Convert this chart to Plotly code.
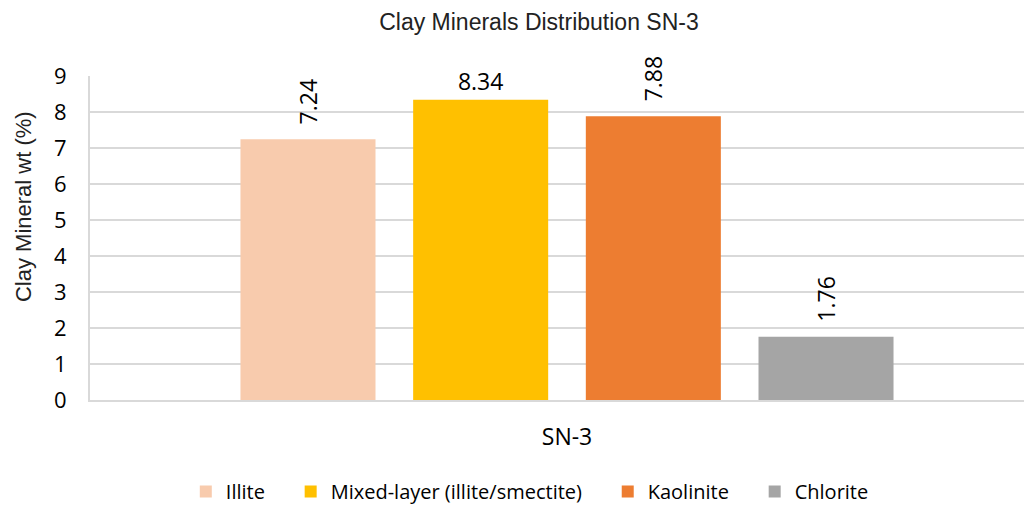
import plotly.graph_objects as go

category = ["SN-3"]
minerals = ["Illite", "Mixed-layer (illite/smectite)", "Kaolinite", "Chlorite"]
values = [7.24, 8.34, 7.88, 1.76]
colors = ["#F8CBAD", "#FFC000", "#ED7D31", "#A5A5A5"]
label_angles = [-90, 0, -90, -90]
y_ticks = list(range(0, 10))

NBSP = "\u00a0"

fig = go.Figure()
for i, (name, v, c, ang) in enumerate(zip(minerals, values, colors, label_angles)):
    lbl = f"{v:.2f}"
    if ang != 0:
        lbl = NBSP * 2 + lbl
    legend_name = name + (NBSP * 4 if i < len(minerals) - 1 else "")
    fig.add_trace(go.Bar(
        x=category, y=[v], name=legend_name,
        marker=dict(color=c, line=dict(width=0)),
        text=[lbl], textposition="outside", textangle=ang,
        textfont=dict(family="Open Sans", size=23, color="#000000"),
        cliponaxis=False,
    ))

fig.add_annotation(
    text="Clay Mineral wt (%)", textangle=-90, showarrow=False,
    xref="paper", yref="paper", x=-0.069, y=0.596, xanchor="center", yanchor="middle",
    font=dict(family="Liberation Sans", size=22, color="#222222"),
)

# page has an 8px body margin: figure is sized/placed to compensate
fig.update_layout(
    width=1036, height=499,
    barmode="group", bargap=0.276, bargroupgap=0.218,
    paper_bgcolor="white", plot_bgcolor="white",
    margin=dict(l=82, r=0, t=68, b=107, autoexpand=False),
    title=dict(text="Clay Minerals Distribution SN-3", x=0.5125, xanchor="center",
               y=0.972, yanchor="middle",
               font=dict(family="Liberation Sans", size=23, color="#222222")),
    legend=dict(orientation="h", x=0.461, xanchor="center",
                y=-0.222, yanchor="top",
                font=dict(family="Open Sans", size=20, color="#000000"),
                itemwidth=30, traceorder="normal"),
    uniformtext=dict(minsize=20, mode="show"),
)
fig.update_yaxes(range=[0, 9], tickvals=y_ticks, showgrid=True, gridcolor="#D9D9D9", gridwidth=2,
                 showline=True, linecolor="#D9D9D9", linewidth=2, zeroline=False,
                 tickfont=dict(family="Open Sans", size=22, color="#000000"), ticklen=0,
                 ticklabelstandoff=17)
fig.update_xaxes(showline=True, linecolor="#D9D9D9", linewidth=2,
                 tickfont=dict(family="Open Sans", size=23, color="#000000"), ticklen=0,
                 ticklabelstandoff=15)

fig.write_html("out.html")
